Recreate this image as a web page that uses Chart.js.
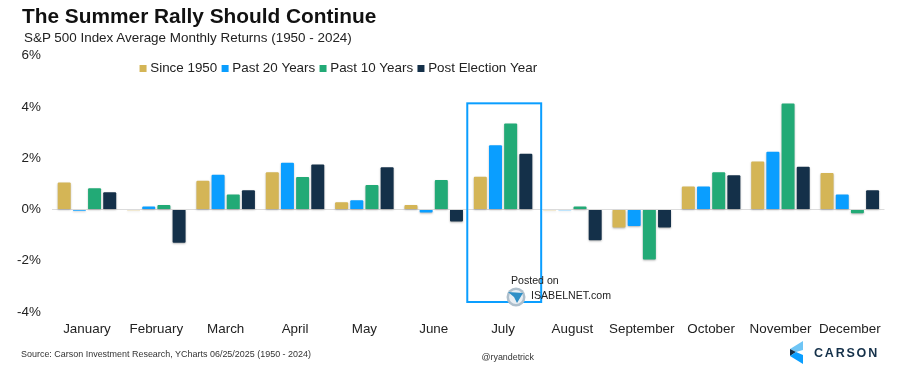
<!DOCTYPE html>
<html>
<head>
<meta charset="utf-8">
<script src="https://cdn.jsdelivr.net/npm/chart.js@4"></script>
<style>
    html, body { margin: 0; padding: 0; background: #fff; }
    #wrap { position: relative; width: 900px; height: 367px; overflow: hidden; font-family: "Liberation Sans", Arial, sans-serif; }
    #wrap canvas { position: absolute; left: 0; top: 0; }
    .txt { position: absolute; white-space: nowrap; color: #111; line-height: 1; }
</style>
</head>
<body>
<div id="wrap">
    <canvas id="returnsChart" width="900" height="367"></canvas>
    <div class="txt" style="left:22px;top:6px;font-size:20.85px;font-weight:bold;">The Summer Rally Should Continue</div>
    <div class="txt" style="left:24px;top:31px;font-size:13.43px;color:#222;">S&amp;P 500 Index Average Monthly Returns (1950 - 2024)</div>
    <div class="txt" style="left:21px;top:350px;font-size:8.96px;color:#333;">Source: Carson Investment Research, YCharts 06/25/2025 (1950 - 2024)</div>
    <div class="txt" style="left:481.5px;top:353px;font-size:8.9px;color:#333;">@ryandetrick</div>
    <div class="txt" style="left:511px;top:275px;font-size:10.6px;color:#222;">Posted on</div>
    <div class="txt" style="left:531px;top:289.5px;font-size:10.6px;color:#222;">ISABELNET.com</div>
    <svg style="position:absolute;left:505px;top:286px" width="22" height="22" viewBox="0 0 22 22">
        <circle cx="11" cy="11" r="9.5" fill="#aebfcc"/>
        <circle cx="11" cy="11" r="7" fill="#e8eef3"/>
        <path d="M3 6 L18 7 L12 17 L9 11 Z" fill="#2f8fc6"/>
    </svg>
    <svg style="position:absolute;left:789px;top:340px" width="20" height="25" viewBox="0 0 20 25">
        <path d="M14 1 L14 10 L7 12 L1 9 Z" fill="#6fc5f5"/>
        <path d="M1 9 L7 12 L1 16 Z" fill="#143049"/>
        <path d="M1 16 L7 12 L14 15 L14 24 Z" fill="#0a9eff"/>
    </svg>
    <div class="txt" style="left:814px;top:347px;font-size:12.5px;font-weight:bold;letter-spacing:1.8px;color:#143049;">CARSON</div>
</div>
<script>
const months = ['January', 'February', 'March', 'April', 'May', 'June', 'July', 'August', 'September', 'October', 'November', 'December'];
const since1950 = [1.05, -0.03, 1.12, 1.45, 0.28, 0.17, 1.28, -0.03, -0.70, 0.90, 1.87, 1.42];
const past20 = [-0.05, 0.12, 1.35, 1.82, 0.36, -0.12, 2.50, -0.03, -0.65, 0.90, 2.25, 0.58];
const past10 = [0.83, 0.17, 0.58, 1.27, 0.95, 1.15, 3.35, 0.12, -1.95, 1.45, 4.13, -0.15];
const postElection = [0.67, -1.30, 0.75, 1.75, 1.65, -0.47, 2.17, -1.20, -0.70, 1.33, 1.67, 0.75];

const highlightMonth = 'July';
const highlightTop = 4.14;
const highlightBottom = -3.61;

// move the legend over the plot, and draw the July box + bar shadows
const extras = {
    id: 'extras',
    beforeDraw(chart) {
        const legend = chart.legend;
        const w = legend.right - legend.left;
        const h = legend.bottom - legend.top;
        legend.left = 135.2;
        legend.right = legend.left + w;
        legend.top = 54.4;
        legend.bottom = legend.top + h; // legend clips to its own box
    },
    beforeDatasetsDraw(chart) {
        const ctx = chart.ctx;
        ctx.save();
        ctx.shadowColor = 'rgba(90,90,90,0.45)';
        ctx.shadowBlur = 2;
        ctx.shadowOffsetY = 1;
    },
    afterDatasetsDraw(chart) {
        chart.ctx.restore();
        const { ctx, scales } = chart;
        const cx = scales.x.getPixelForValue(months.indexOf(highlightMonth));
        const top = scales.y.getPixelForValue(highlightTop);
        const bottom = scales.y.getPixelForValue(highlightBottom);
        ctx.save();
        ctx.strokeStyle = '#0a9eff';
        ctx.lineWidth = 2;
        ctx.strokeRect(cx - 35.8, top, 73.9, bottom - top);
        ctx.restore();
    }
};

const barOpts = { borderRadius: 1, categoryPercentage: 0.875, barPercentage: 0.855 };

new Chart(document.getElementById('returnsChart'), {
    type: 'bar',
    data: {
        labels: months,
        datasets: [
            { label: 'Since 1950', data: since1950, backgroundColor: '#d4b556', ...barOpts },
            { label: 'Past 20 Years', data: past20, backgroundColor: '#0a9eff', ...barOpts },
            { label: 'Past 10 Years', data: past10, backgroundColor: '#22aa76', ...barOpts },
            { label: 'Post Election Year', data: postElection, backgroundColor: '#143049', ...barOpts }
        ]
    },
    options: {
        responsive: false,
        animation: false,
        layout: { padding: { top: 24.9, right: 15.5, bottom: 0, left: 0 } },
        plugins: {
            tooltip: { enabled: false },
            legend: {
                position: 'top',
                align: 'start',
                labels: {
                    usePointStyle: true,
                    pointStyle: 'rect',
                    boxWidth: 1,
                    boxHeight: 7,
                    padding: 7.35,
                    color: '#222',
                    font: { family: '"Liberation Sans"', size: 13.4 }
                }
            }
        },
        scales: {
            x: {
                afterFit(scale) { scale.height = 55; },
                border: { display: false },
                grid: { display: false },
                ticks: { color: '#222', padding: 1, maxRotation: 0, autoSkip: false, font: { family: '"Liberation Sans"', size: 13.4 } }
            },
            y: {
                min: -4,
                max: 6,
                afterFit(scale) { scale.width = 52.3; },
                border: { display: false },
                grid: {
                    drawTicks: false,
                    color: ctx => ctx.tick.value === 0 ? '#dcdcdc' : 'transparent'
                },
                ticks: {
                    stepSize: 2,
                    color: '#222',
                    padding: 11.5,
                    font: { family: '"Liberation Sans"', size: 13.4 },
                    callback: v => v + '%'
                }
            }
        }
    },
    plugins: [extras]
});
</script>
</body>
</html>
